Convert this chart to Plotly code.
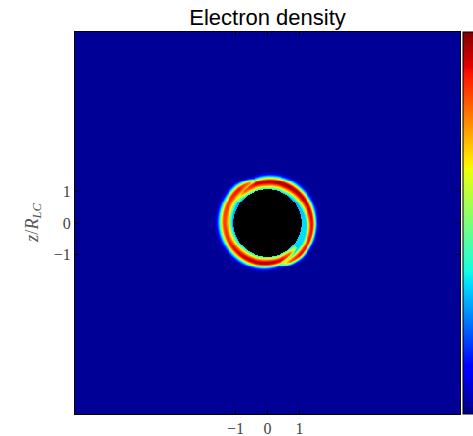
import numpy as np
import plotly.graph_objects as go

# ---------------- data ----------------
title_text = "Electron density"
tick_vals = [-1, 0, 1]
tick_text = ["\u22121", "0", "1"]
axis_range = [-6, 6]
star_radius = 1.06          # black disc (masked region)
background_level = 0.02     # uniform density outside the shell

# Arm A: starts upper-left near the star, runs clockwise over the top and right
armA_angle = [145, 125, 105, 90, 60, 30, 0, -25, -45, -60, -75]
armA_radius = [1.18, 1.23, 1.28, 1.30, 1.33, 1.36, 1.39, 1.41, 1.42, 1.40, 1.36]
armA_peak = [0.50, 0.82, 0.93, 0.96, 0.97, 0.95, 0.91, 0.89, 0.91, 0.80, 0.38]
armA_win = [0.12, 0.18, 0.23, 0.25, 0.25, 0.23, 0.19, 0.17, 0.17, 0.15, 0.11]
armA_wout = [0.08, 0.11, 0.15, 0.16, 0.16, 0.15, 0.12, 0.11, 0.11, 0.10, 0.08]
armA_fill = [0.28, 0.28, 0.28, 0.28, 0.28, 0.30, 0.34, 0.34, 0.32, 0.30, 0.28]

# Arm B: starts lower-right near the star, runs clockwise over the bottom and left
armB_angle = [-40, -55, -70, -90, -115, -140, -165, -180, -205, -230, -245, -258]
armB_radius = [1.16, 1.20, 1.24, 1.26, 1.29, 1.31, 1.33, 1.34, 1.36, 1.38, 1.38, 1.35]
armB_peak = [0.50, 0.82, 0.93, 0.96, 0.95, 0.91, 0.86, 0.84, 0.86, 0.90, 0.78, 0.38]
armB_win = [0.12, 0.15, 0.19, 0.21, 0.23, 0.24, 0.25, 0.25, 0.25, 0.24, 0.19, 0.13]
armB_wout = [0.08, 0.10, 0.13, 0.15, 0.16, 0.16, 0.17, 0.17, 0.16, 0.15, 0.11, 0.09]
armB_fill = [0.28, 0.28, 0.28, 0.28, 0.28, 0.28, 0.30, 0.30, 0.30, 0.28, 0.28, 0.28]

grid_n = 401

# ---------------- build the density table ----------------
xs = np.linspace(axis_range[0], axis_range[1], grid_n)
ys = np.linspace(axis_range[0], axis_range[1], grid_n)
X, Y = np.meshgrid(xs, ys)
R = np.hypot(X, Y)
PHI = np.degrees(np.arctan2(Y, X))


def arm_field(ang, rad, peak, win, wout, fill):
    a = np.array(ang[::-1], float)
    cols = [np.array(v[::-1], float) for v in (rad, peak, win, wout, fill)]
    out = np.zeros_like(R)
    for shift in (0.0, 360.0, -360.0):
        p = PHI + shift
        m = (p >= a.min()) & (p <= a.max())
        if not m.any():
            continue
        rc, pk, wi, wo, fl = (np.interp(p[m], a, c) for c in cols)
        r = R[m]
        w = np.where(r < rc, wi, wo)
        band = pk * np.exp(-((r - rc) / w) ** 2)
        inner = fl / (1.0 + np.exp((r - rc + 0.03) / 0.02))
        out[m] = np.maximum(out[m], np.maximum(band, inner))
    return out


Z = np.full_like(R, background_level)
Z = np.maximum(Z, arm_field(armA_angle, armA_radius, armA_peak, armA_win, armA_wout, armA_fill))
Z = np.maximum(Z, arm_field(armB_angle, armB_radius, armB_peak, armB_win, armB_wout, armB_fill))
Z = np.round(Z, 3).astype(object)
Z[R < star_radius] = None

# matplotlib-like jet
jet = [
    [0.0, "rgb(0,0,128)"], [0.11, "rgb(0,0,255)"], [0.125, "rgb(0,0,255)"],
    [0.34, "rgb(0,220,255)"], [0.375, "rgb(20,255,226)"], [0.5, "rgb(124,255,121)"],
    [0.64, "rgb(238,255,8)"], [0.66, "rgb(255,236,0)"], [0.89, "rgb(255,18,0)"],
    [0.91, "rgb(228,0,0)"], [1.0, "rgb(128,0,0)"],
]

fig = go.Figure(go.Heatmap(
    x=xs, y=ys, z=Z.tolist(), zmin=0, zmax=1, colorscale=jet, zsmooth=False,
    hoverongaps=False,
    colorbar=dict(x=1.008, xanchor="left", thickness=26, len=1.0, lenmode="fraction",
                  y=0.5, yanchor="middle", ypad=0, xpad=0, outlinecolor="black",
                  outlinewidth=1, showticklabels=False, ticks=""),
))

tick_font = dict(family="Liberation Serif, DejaVu Serif, serif", size=16, color="#444")
axis_common = dict(range=axis_range, tickmode="array", tickvals=tick_vals, ticktext=tick_text,
                   ticks="inside", ticklen=4, tickcolor="black", showline=True,
                   linecolor="black", linewidth=1, mirror="ticks", showgrid=False,
                   zeroline=False, tickfont=tick_font)

fig.update_xaxes(**axis_common)
fig.update_yaxes(**axis_common)

fig.update_layout(
    width=473, height=436,
    margin=dict(l=75, r=13, t=32, b=22, autoexpand=False),
    plot_bgcolor="black", paper_bgcolor="white",
    title=dict(text=title_text, x=0.5, xref="paper", xanchor="center",
               y=1 - 17 / 436, yref="container", yanchor="middle",
               font=dict(family="Liberation Sans, Arial, sans-serif", size=22, color="black")),
    annotations=[dict(text="<i>z</i>/<i>R</i><sub><i>LC</i></sub>", xref="paper", yref="paper",
                      x=-0.11, y=0.5, xanchor="center", yanchor="middle", textangle=-90,
                      showarrow=False,
                      font=dict(family="Liberation Serif, DejaVu Serif, serif", size=18, color="#555"))],
)

# place the figure flush with the window corner (no default body margin / scrollbars)
fig.write_html("out.html", config={"displayModeBar": False},
               post_script="document.body.style.margin='0';document.body.style.overflow='hidden';")
